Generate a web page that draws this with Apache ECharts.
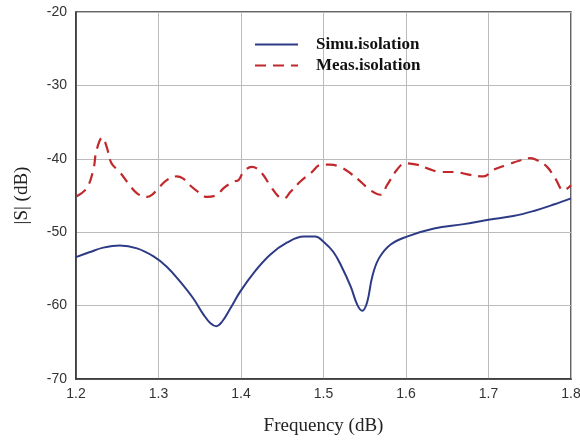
<!DOCTYPE html>
<html>
<head>
<meta charset="utf-8">
<script src="https://cdn.jsdelivr.net/npm/echarts@6/dist/echarts.min.js"></script>
<style>
  html, body { margin: 0; padding: 0; background: #fff; }
  #chart { width: 580px; height: 441px; }
</style>
</head>
<body>
<div id="chart"></div>
<script>
// 隔离度数据 (频率, dB)
const simuFreq = [1.200, 1.217, 1.233, 1.253, 1.274, 1.294, 1.310, 1.326, 1.342, 1.355, 1.363, 1.370, 1.377, 1.387, 1.399, 1.415, 1.435, 1.456, 1.476, 1.490, 1.500, 1.512, 1.522, 1.533, 1.541, 1.547, 1.553, 1.559, 1.567, 1.581, 1.601, 1.634, 1.670, 1.700, 1.730, 1.755, 1.780, 1.800];
const simuVal  = [-53.4, -52.7, -52.1, -51.8, -52.2, -53.3, -54.7, -56.7, -59.0, -61.3, -62.4, -62.8, -62.2, -60.4, -58.1, -55.6, -53.1, -51.4, -50.6, -50.6, -51.3, -52.7, -54.7, -57.4, -59.9, -60.7, -59.5, -56.1, -53.6, -51.7, -50.6, -49.5, -48.9, -48.3, -47.8, -47.1, -46.2, -45.4];

const measFreq = [1.201, 1.213, 1.221, 1.225, 1.232, 1.237, 1.243, 1.253, 1.263, 1.274, 1.286, 1.292, 1.300, 1.310, 1.322, 1.330, 1.338, 1.348, 1.359, 1.371, 1.379, 1.391, 1.397, 1.403, 1.413, 1.419, 1.427, 1.435, 1.446, 1.452, 1.460, 1.472, 1.484, 1.498, 1.508, 1.520, 1.533, 1.545, 1.557, 1.569, 1.577, 1.589, 1.599, 1.613, 1.626, 1.642, 1.658, 1.678, 1.694, 1.706, 1.723, 1.739, 1.751, 1.759, 1.771, 1.781, 1.791, 1.800];
const measVal  = [-45.1, -44.0, -41.5, -38.8, -37.1, -38.3, -40.6, -41.8, -43.3, -44.7, -45.2, -44.9, -44.0, -42.9, -42.4, -42.7, -43.6, -44.5, -45.2, -44.9, -44.0, -43.1, -42.9, -41.8, -41.1, -41.3, -42.2, -43.6, -45.2, -45.4, -44.5, -43.1, -42.0, -40.8, -40.8, -41.1, -42.0, -43.1, -44.3, -44.9, -43.6, -41.5, -40.6, -40.8, -41.3, -41.8, -41.8, -42.2, -42.4, -41.5, -40.8, -40.2, -39.9, -40.2, -41.1, -42.7, -44.3, -43.6];

const xTicks = [1.2, 1.3, 1.4, 1.5, 1.6, 1.7, 1.8];
const yTicks = [-70, -60, -50, -40, -30, -20];

const zip = (xs, ys) => xs.map((x, i) => [x, ys[i]]);

const myChart = echarts.init(document.getElementById('chart'));

const option = {
  backgroundColor: '#fff',
  animation: false,
  grid: {
    left: 76,
    right: 9,
    top: 12,
    bottom: 62,
    outerBoundsMode: 'none',
    show: true,
    borderColor: '#333',
    borderWidth: 1.5
  },
  legend: {
    orient: 'vertical',
    left: 249,
    top: 31,
    itemWidth: 43,
    itemHeight: 14,
    itemGap: 4,
    itemStyle: { opacity: 0 },
    textStyle: {
      fontFamily: 'Liberation Serif',
      fontWeight: 'bold',
      fontSize: 17,
      color: '#111',
      padding: [0, 0, 0, 13]
    },
    data: ['Simu.isolation', 'Meas.isolation']
  },
  xAxis: {
    type: 'value',
    min: xTicks[0],
    max: xTicks[xTicks.length - 1],
    interval: 0.1,
    name: 'Frequency (dB)',
    nameLocation: 'middle',
    nameGap: 38,
    nameTextStyle: { fontFamily: 'Liberation Serif', fontSize: 19, color: '#222' },
    axisLine: { lineStyle: { color: '#333', width: 1.5 } },
    axisTick: { show: false },
    axisLabel: {
      fontFamily: 'Liberation Sans',
      fontSize: 14,
      color: '#333',
      margin: 8,
      formatter: (v) => v.toFixed(1)
    },
    splitLine: { show: true, lineStyle: { color: '#bbb', width: 1 } }
  },
  yAxis: {
    type: 'value',
    min: yTicks[0],
    max: yTicks[yTicks.length - 1],
    interval: 10,
    name: '|S| (dB)',
    nameLocation: 'middle',
    nameGap: 44,
    nameRotate: 90,
    nameTextStyle: { fontFamily: 'Liberation Serif', fontSize: 19, color: '#222' },
    axisLine: { show: true, lineStyle: { color: '#333', width: 1.5 } },
    axisTick: { show: false },
    axisLabel: {
      fontFamily: 'Liberation Sans',
      fontSize: 14,
      color: '#333',
      margin: 9
    },
    splitLine: { show: true, lineStyle: { color: '#bbb', width: 1 } }
  },
  series: [
    {
      name: 'Simu.isolation',
      type: 'line',
      smooth: 0.4,
      symbol: 'none',
      color: '#2d3b86',
      lineStyle: { color: '#2d3b86', width: 2 },
      data: zip(simuFreq, simuVal)
    },
    {
      name: 'Meas.isolation',
      type: 'line',
      smooth: 0.4,
      symbol: 'none',
      color: '#c0282b',
      lineStyle: { color: '#c0282b', width: 2.2, type: [11, 7] },
      data: zip(measFreq, measVal)
    }
  ]
};
option && myChart.setOption(option);
window.addEventListener('resize', myChart.resize);
</script>
</body>
</html>
